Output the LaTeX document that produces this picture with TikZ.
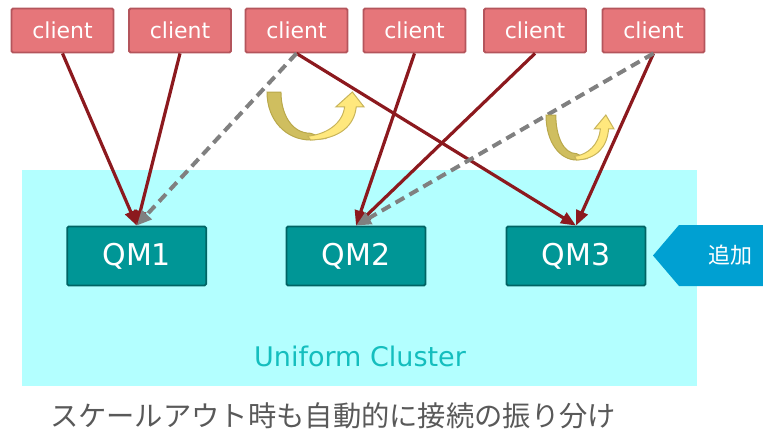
\documentclass[tikz,border=0pt]{standalone}
\usepackage{fontspec}
\setmainfont{DejaVu Sans}
\newfontfamily\jp{Noto Sans CJK JP}
\usetikzlibrary{arrows.meta}
\definecolor{clientfill}{RGB}{230,118,122}
\definecolor{clientline}{RGB}{180,85,92}
\definecolor{qmfill}{RGB}{0,150,150}
\definecolor{qmline}{RGB}{0,100,100}
\definecolor{clusterbg}{RGB}{179,255,255}
\definecolor{clustertext}{RGB}{20,190,190}
\definecolor{linkred}{RGB}{140,25,30}
\definecolor{linkgray}{RGB}{128,128,128}
\definecolor{addblue}{RGB}{0,160,210}
\definecolor{udark}{RGB}{207,190,95}
\definecolor{udarkline}{RGB}{185,168,75}
\definecolor{ulight}{RGB}{255,232,125}
\definecolor{ulightline}{RGB}{200,180,90}
\definecolor{captiongray}{RGB}{89,89,89}
\tikzset{
  clientbox/.style={draw=clientline, fill=clientfill, line width=1.8pt, rounded corners=1.5pt,
    minimum width=102pt, minimum height=44pt, inner sep=0pt, text=white, font=\fontsize{22}{24}\selectfont},
  qmbox/.style={draw=qmline, fill=qmfill, line width=1.8pt, rounded corners=1.5pt,
    minimum width=139pt, minimum height=59pt, inner sep=0pt, text=white, font=\fontsize{30}{32}\selectfont},
  redlink/.style={draw=linkred, line width=3.2pt, -{Triangle[length=15pt,width=12pt]}},
  graylink/.style={draw=linkgray, line width=4pt, dash pattern=on 10pt off 6pt, -{Triangle[length=15pt,width=13pt]}},
  uturn/.pic={
    \filldraw[fill=udark, draw=udarkline, line width=1pt]
      (0,0) -- (0.144,0) .. controls (0.144,0.45) and (0.25,0.86) .. (0.45,0.86)
      -- (0.6,0.97) -- (0.45,1) .. controls (0.2,1) and (0,0.6) .. (0,0) -- cycle;
    \filldraw[fill=ulight, draw=ulightline, line width=1pt]
      (0.45,1) .. controls (0.75,0.98) and (0.9,0.7) .. (0.92,0.31) -- (1,0.31) -- (0.88,0)
      -- (0.71,0.31) -- (0.8,0.31) .. controls (0.78,0.65) and (0.62,0.88) .. (0.42,0.92) -- cycle;
  }
}
\begin{document}
\begin{tikzpicture}[x=1pt,y=-1pt]
\useasboundingbox (0,0) rectangle (763,431);
% cluster background
\fill[clusterbg] (22,170) rectangle (697,386);
\node[text=clustertext, font=\fontsize{27}{29}\selectfont] (cl) at (360,356) {Uniform Cluster};
% clients
\node[clientbox] (c1) at (62.5,30.5) {client};
\node[clientbox] (c2) at (180,30.5) {client};
\node[clientbox] (c3) at (296.5,30.5) {client};
\node[clientbox] (c4) at (414.5,30.5) {client};
\node[clientbox] (c5) at (535,30.5) {client};
\node[clientbox] (c6) at (653.5,30.5) {client};
% QMs
\node[qmbox] (q1) at (136.7,256) {QM1};
\node[qmbox] (q2) at (356,256) {QM2};
\node[qmbox] (q3) at (576,256) {QM3};
% red links
\draw[redlink] (c1.south) -- (q1.north);
\draw[redlink] (c2.south) -- (q1.north);
\draw[redlink] (c3.south) -- (q3.north);
\draw[redlink] (c4.south) -- (q2.north);
\draw[redlink] (c5.south) -- (q2.north);
\draw[redlink] (c6.south) -- (q3.north);
% gray dashed links
\draw[graylink] (c3.south) -- (q1.north);
\draw[graylink] (c6.south) -- (q2.north);
% u-turn arrows
\pic[xscale=97,yscale=48] at (267,92) {uturn};
\pic[xscale=68,yscale=45] at (546,115) {uturn};
% add marker
\fill[addblue] (653,255.5) -- (679,225) -- (763,225) -- (763,286) -- (679,286) -- cycle;
\node[text=white, font=\jp\fontsize{22}{24}\selectfont] (add) at (730,255.5) {追加};
% caption
\node[text=captiongray, font=\jp\fontsize{28.3}{30}\selectfont] (cap) at (333,416) {スケールアウト時も自動的に接続の振り分け};
\end{tikzpicture}
\end{document}
